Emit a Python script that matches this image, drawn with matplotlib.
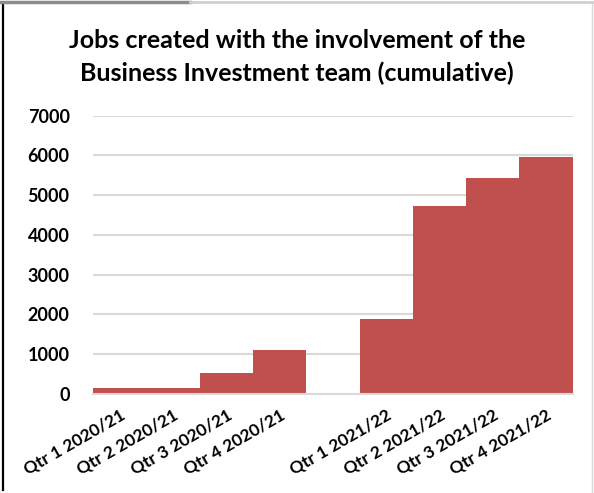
import matplotlib
matplotlib.use("Agg")
import matplotlib.pyplot as plt
from matplotlib.lines import Line2D

# Cumulative jobs created, by quarter (blank slot separates the two years)
quarters = ["Qtr 1 2020/21", "Qtr 2 2020/21", "Qtr 3 2020/21", "Qtr 4 2020/21", "",
            "Qtr 1 2021/22", "Qtr 2 2021/22", "Qtr 3 2021/22", "Qtr 4 2021/22"]
jobs = [155, 155, 520, 1100, 0, 1890, 4730, 5440, 5950]
y_ticks = [0, 1000, 2000, 3000, 4000, 5000, 6000, 7000]

title = "Jobs created with the involvement of the\nBusiness Investment team (cumulative)"
bar_color = "#C0504D"
grid_color = "#D9D9D9"

plt.rcParams["font.family"] = ["Lato", "DejaVu Sans"]

fig = plt.figure(figsize=(5.94, 4.93), dpi=100)
ax = fig.add_axes([0.157, 0.2008, 0.807, 0.5645])

x = list(range(len(quarters)))
ax.bar(x, jobs, width=1.0, color=bar_color, zorder=3)

ax.set_xlim(-0.5, len(quarters) - 0.5)
ax.set_ylim(0, 7000)
ax.set_yticks(y_ticks)
ax.set_yticklabels([str(v) for v in y_ticks], fontsize=13, fontweight="bold")
ax.set_xticks(x)
ax.set_xticklabels(quarters, rotation=30, ha="right", rotation_mode="anchor",
                   fontsize=12.5, fontweight="bold")
ax.tick_params(axis="y", length=0, pad=17)
ax.tick_params(axis="x", length=0, pad=9)

ax.grid(axis="y", color=grid_color, linewidth=1.5, zorder=0)
for side in ["top", "right", "left"]:
    ax.spines[side].set_visible(False)
ax.spines["bottom"].set_color(grid_color)
ax.spines["bottom"].set_linewidth(1.5)
ax.spines["bottom"].set_zorder(4)

fig.text(0.5, 0.885, title, ha="center", va="center", fontsize=18,
         fontweight="bold", linespacing=1.5)

# Surrounding frame lines
W, H = 594, 493
fig.add_artist(Line2D([3 / W, 3 / W], [1 - 3 / H, 1 - 490 / H], color="black",
                      linewidth=1.6, transform=fig.transFigure))
fig.add_artist(Line2D([0, 190 / W], [1 - 2 / H, 1 - 2 / H], color="#8C8C8C",
                      linewidth=2.5, transform=fig.transFigure))
fig.add_artist(Line2D([190 / W, 1], [1 - 2 / H, 1 - 2 / H], color="#D0D0D0",
                      linewidth=2.0, transform=fig.transFigure))
fig.add_artist(Line2D([592 / W, 592 / W], [1 - 3 / H, 0], color="#D9D9D9",
                      linewidth=1.0, transform=fig.transFigure))

fig.savefig("out.png", dpi=100)
